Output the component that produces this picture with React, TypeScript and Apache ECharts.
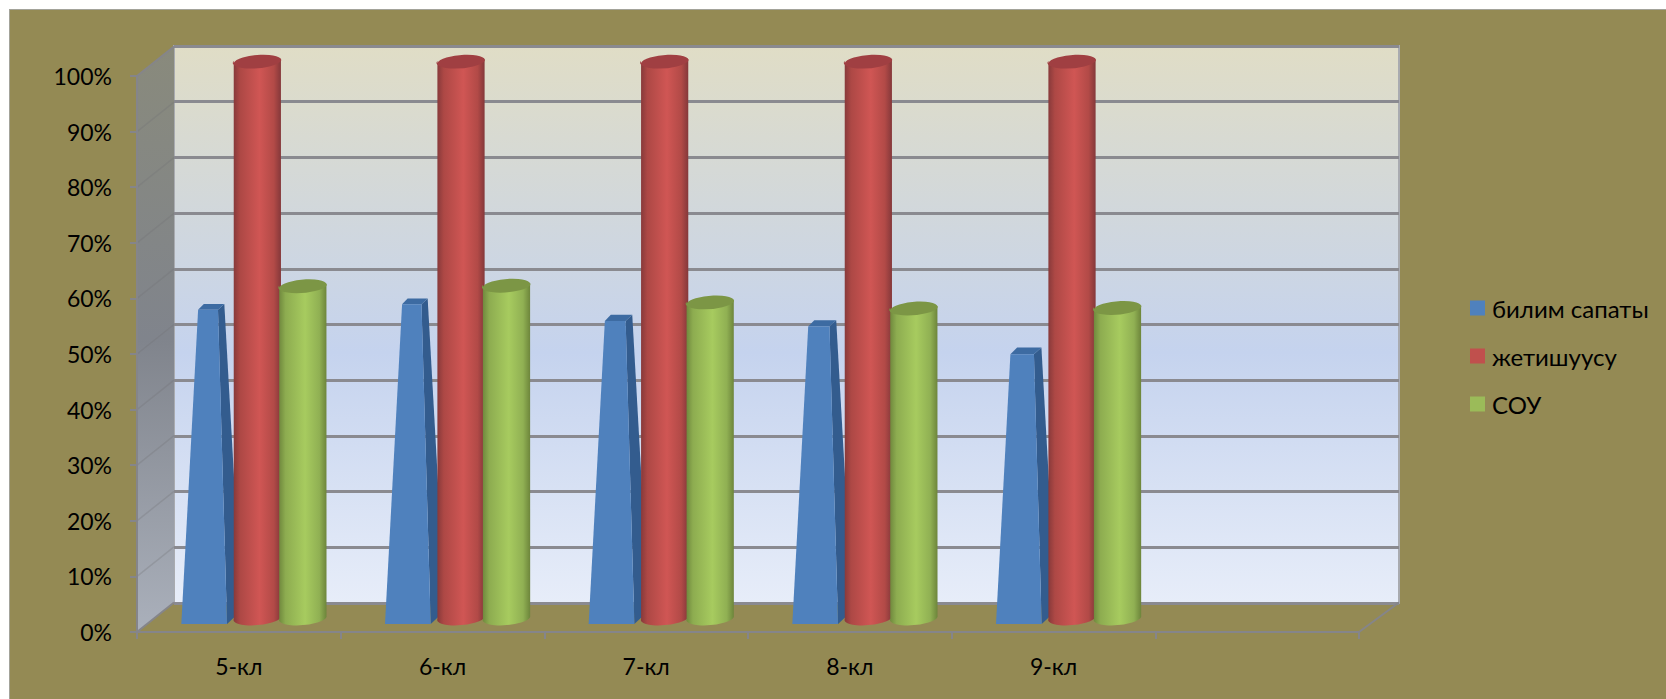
import React, { useEffect, useRef } from "react";
import * as echarts from "echarts";

const categories = ["5-кл", "6-кл", "7-кл", "8-кл", "9-кл", ""];
const seriesNames = ["билим сапаты", "жетишуусу", "СОУ"];
const bilimSapaty = [56.5, 57.5, 54.5, 53.5, 48.5];
const zhetishuusu = [100, 100, 100, 100, 100];
const sou = [59.6, 59.7, 56.7, 55.6, 55.7];
const legendColors = ["#4F81BD", "#C0504D", "#9BBB59"];

const DEPTH_X = 37;
const DEPTH_Y = 29.5;
const FONT = "Lato, 'Noto Sans', sans-serif";
const GRAY = "#85858a";

const hGrad = (stops: [number, string][]) => ({
  type: "linear", x: 0, y: 0, x2: 1, y2: 0,
  colorStops: stops.map(([offset, color]) => ({ offset, color })),
});
const vGrad = (stops: [number, string][]) => ({
  type: "linear", x: 0, y: 0, x2: 0, y2: 1,
  colorStops: stops.map(([offset, color]) => ({ offset, color })),
});

const redBody = hGrad([[0, "#86393a"], [0.14, "#ad4845"], [0.55, "#d05654"], [0.85, "#b24a47"], [1, "#84383a"]]);
const greenBody = hGrad([[0, "#6f883d"], [0.14, "#8dac50"], [0.55, "#a7cb5f"], [0.85, "#90b053"], [1, "#6d853b"]]);

const toData = (a: number[]) => a.map((v, i) => [i, v]);

function renderPyramid(_: any, api: any) {
  const i = api.value(0);
  const v = api.value(1);
  const [cx, y0] = api.coord([i, 0]);
  const yv = api.coord([i, v])[1];
  const f = v / 100;
  const baseL = cx - 57.5, baseR = cx - 11.8;
  const topL = baseL + f * 29.7, topR = baseR - f * 16;
  const yb = y0 - 8, yt = yv - 8;
  const dx = 14.5 * (1 - f), dy = 13.5 * (1 - f);
  return {
    type: "group",
    children: [
      { type: "polygon", shape: { points: [[baseR, yb], [baseR + 14.5, yb - 13.5], [topR + dx, yt - dy], [topR, yt]] }, style: { fill: "#335c8e" } },
      { type: "polygon", shape: { points: [[topL, yt], [topL + dx * 0.9, yt - dy], [topR + dx, yt - dy], [topR, yt]] }, style: { fill: "#3d6ba2" } },
      { type: "polygon", shape: { points: [[baseL, yb], [baseR, yb], [topR, yt], [topL, yt]] }, style: { fill: "#4f81bd" } },
    ],
  };
}

function cylinder(offset: number, body: any, top: string) {
  return (_: any, api: any) => {
    const i = api.value(0);
    const v = api.value(1);
    const [cxFront, y0] = api.coord([i, 0]);
    const yv = api.coord([i, v])[1];
    const cx = cxFront + 18.5 + offset;
    const cyB = y0 - 15;
    const cyT = yv - 15;
    const rx = 23.6, ry = 7, tilt = 2, rot = -5;
    const l = cx - rx, r = cx + rx;
    const bodyPath = `M${l} ${cyT + tilt}L${l} ${cyB + tilt}A${rx} ${ry} ${rot} 0 0 ${r} ${cyB - tilt}L${r} ${cyT - tilt}A${rx} ${ry} ${rot} 0 1 ${l} ${cyT + tilt}Z`;
    const topPath = `M${l} ${cyT + tilt}A${rx} ${ry} ${rot} 0 1 ${r} ${cyT - tilt}A${rx} ${ry} ${rot} 0 1 ${l} ${cyT + tilt}Z`;
    return {
      type: "group",
      children: [
        { type: "path", shape: { pathData: bodyPath }, style: { fill: body } },
        { type: "path", shape: { pathData: topPath }, style: { fill: top } },
      ],
    };
  };
}

function renderWalls(params: any) {
  const c = params.coordSys;
  const left = c.x, top = c.y, bottom = c.y + c.height, right = c.x + c.width;
  const ticks = [0, 1, 2, 3, 4, 5, 6, 7, 8, 9, 10];
  return {
    type: "group",
    children: [
      {
        type: "polygon",
        shape: { points: [[left, top], [left + DEPTH_X, top - DEPTH_Y], [left + DEPTH_X, bottom - DEPTH_Y], [left, bottom]] },
        style: { fill: vGrad([[0, "#898a7c"], [0.5, "#80848c"], [1, "#aab0bb"]]) },
      },
      ...ticks.map((t) => {
        const y = bottom - (t / 10) * c.height;
        const edge = t === 0 || t === 10;
        return {
          type: "line",
          shape: { x1: left, y1: y, x2: left + DEPTH_X, y2: y - DEPTH_Y },
          style: { stroke: edge ? GRAY : "rgba(110,110,115,0.28)", lineWidth: edge ? 2 : 1.5 },
        };
      }),
      { type: "line", shape: { x1: right, y1: bottom, x2: right + DEPTH_X + 3, y2: bottom - DEPTH_Y }, style: { stroke: GRAY, lineWidth: 2 } },
    ],
  };
}

export default function App() {
  const ref = useRef<HTMLDivElement>(null);
  useEffect(() => {
    const chart = echarts.init(ref.current!, undefined, { renderer: "svg" });
    const axisLine = { show: true, lineStyle: { color: GRAY, width: 2 } };
    chart.setOption({
      animation: false,
      backgroundColor: "transparent",
      textStyle: { fontFamily: FONT },
      grid: [
        { left: 137, top: 76, width: 1222, height: 556, containLabel: false },
        {
          left: 174, top: 46, width: 1225, height: 557, show: true,
          backgroundColor: vGrad([[0, "#e0ddc6"], [0.55, "#c5d3ee"], [1, "#e7edf9"]]),
          borderColor: "#a9abb0", borderWidth: 2,
        },
      ],
      xAxis: [
        {
          type: "category", gridIndex: 0, data: categories, boundaryGap: true, z: 3,
          axisLine, axisTick: { show: true, length: 7, lineStyle: { color: GRAY, width: 2 } },
          axisLabel: { color: "#000", fontSize: 23, fontFamily: FONT, margin: 22 },
        },
        { type: "category", gridIndex: 1, data: categories, show: false },
      ],
      yAxis: [
        {
          type: "value", gridIndex: 0, min: 0, max: 100, interval: 10, z: 3,
          axisLine, axisTick: { show: true, length: 7, lineStyle: { color: GRAY, width: 2 } },
          splitLine: { show: false },
          axisLabel: { color: "#000", fontSize: 23, fontFamily: FONT, margin: 25, formatter: "{value}%" },
        },
        {
          type: "value", gridIndex: 1, min: 0, max: 100, interval: 10,
          axisLine: { show: false }, axisTick: { show: false }, axisLabel: { show: false },
          splitLine: { show: true, lineStyle: { color: "#8a8a90", width: 3 } },
        },
      ],
      legend: {
        orient: "vertical", left: 1470, top: 296, padding: 0,
        itemWidth: 15, itemHeight: 15, itemGap: 24,
        selectedMode: false,
        textStyle: { color: "#000", fontSize: 24, fontFamily: FONT, padding: [0, 0, 0, 2] },
        data: seriesNames.map((name, i) => ({ name, icon: "rect", itemStyle: { color: legendColors[i] } })),
      },
      series: [
        { type: "custom", name: "walls", renderItem: renderWalls, data: [[0, 0]], silent: true, clip: false },
        { type: "custom", name: seriesNames[0], renderItem: renderPyramid, data: toData(bilimSapaty), itemStyle: { color: legendColors[0] } },
        { type: "custom", name: seriesNames[1], renderItem: cylinder(0, redBody, "#a03f42"), data: toData(zhetishuusu), itemStyle: { color: legendColors[1] } },
        { type: "custom", name: seriesNames[2], renderItem: cylinder(45.5, greenBody, "#7c9645"), data: toData(sou), itemStyle: { color: legendColors[2] } },
      ],
    });
    return () => chart.dispose();
  }, []);
  return (
    <div style={{ position: "absolute", left: 0, top: 0, width: 1666, height: 699, background: "#fff", overflow: "hidden" }}>
      <div style={{ position: "absolute", left: 9, top: 9, width: 1657, height: 690, background: "#948a54", borderLeft: "1px solid #a3a39a", borderTop: "1px solid #a3a39a", boxSizing: "border-box" }} />
      <div ref={ref} style={{ position: "absolute", left: 0, top: 0, width: 1666, height: 699 }} />
    </div>
  );
}
